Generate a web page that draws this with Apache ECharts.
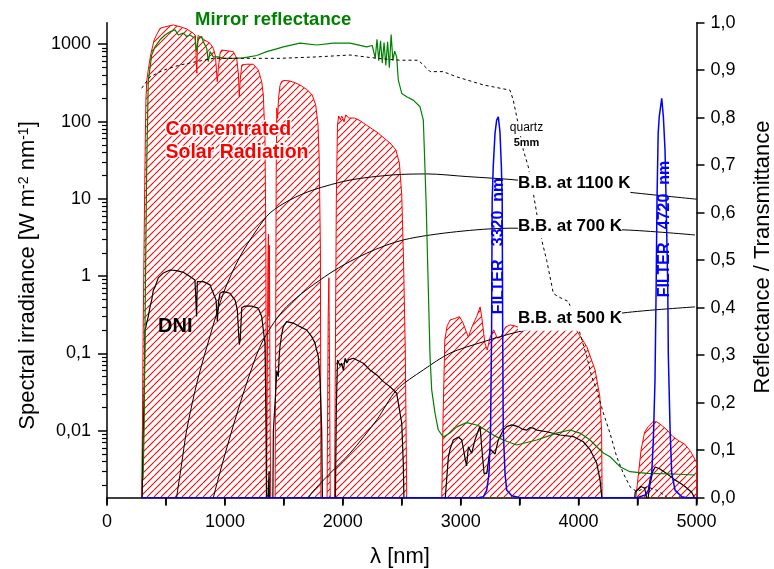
<!DOCTYPE html>
<html><head><meta charset="utf-8">
<script src="https://cdn.jsdelivr.net/npm/echarts@6/dist/echarts.min.js"></script>
<style>html,body{margin:0;padding:0;background:#fff}#c{width:774px;height:569px}</style>
</head><body><div id="c"></div>
<script>
// ---- data (wavelength nm, value) ----
const csr = [[285,0.0005],[294,0.0015],[300,0.01],[305,0.1],[310,0.6],[315,3],[320,15],[325,60],[330,190],[337,330],[350,465],[370,727],[400,1136],[420,1319],[450,1611],[500,1690],[562,1778],[619,1690],[676,1578],[732,1388],[750,1300],[757,600],[762,422],[766,900],[772,1300],[789,1254],[830,1130],[874,1030],[902,888],[920,700],[935,328],[945,500],[960,780],[973,843],[1071,802],[1100,659],[1115,400],[1122,210],[1130,350],[1143,540],[1185,551],[1241,551],[1283,465],[1312,328],[1326,221],[1340,60],[1348,2],[1352,0.0005],
[1360,0.0005],[1365,1.5],[1369,3.5],[1373,0.3],[1378,2.5],[1383,0.02],[1390,0.0005],
[1425,0.0005],[1435,20],[1440,150],[1447,110],[1455,200],[1467,290],[1480,330],[1500,340],[1550,335],[1600,316],[1650,289],[1700,256],[1740,221],[1770,164],[1790,90],[1800,32],[1810,2.2],[1815,0.0005],
[1865,0.0005],[1876,0.3],[1882,0.95],[1888,0.05],[1895,0.0005],
[1928,0.0005],[1945,9.7],[1955,90],[1965,118],[1980,105],[1990,118],[2000,111],[2010,99],[2025,122],[2050,111],[2100,111],[2150,102],[2200,90],[2250,80],[2300,71],[2350,61],[2400,53],[2450,43],[2480,29],[2500,11.2],[2515,1.62],[2530,0.111],[2545,0.0005],
[2835,0.0005],[2850,0.0138],[2865,0.15],[2885,0.227],[2910,0.271],[2950,0.283],[2990,0.299],[3020,0.248],[3045,0.195],[3065,0.163],[3095,0.22],[3135,0.299],[3165,0.4],[3180,0.283],[3205,0.136],[3225,0.111],[3250,0.163],[3280,0.202],[3310,0.158],[3340,0.163],[3380,0.22],[3420,0.234],[3460,0.227],[3500,0.214],[3700,0.214],[3900,0.211],[3980,0.202],[4070,0.122],[4140,0.061],[4180,0.0276],[4195,0.0102],[4202,0.0005],
[4455,0.0005],[4490,0.00157],[4530,0.00565],[4560,0.0096],[4590,0.0113],[4630,0.013],[4660,0.0131],[4700,0.0119],[4750,0.0102],[4800,0.0084],[4850,0.0074],[4900,0.0067],[4950,0.0054],[5000,0.0039],[5000,0.0005]];

const dni = [[295,0.0005],[300,0.002],[305,0.006],[315,0.03],[322,0.2],[330,0.22],[337,0.25],[350,0.3],[365,0.4],[380,0.5],[393,0.66],[407,0.72],[435,0.95],[478,1.1],[534,1.2],[591,1.18],[647,1.12],[704,0.99],[746,0.89],[755,0.85],[760,0.3],[766,0.85],[774,0.89],[817,0.85],[874,0.77],[902,0.6],[925,0.49],[936,0.26],[945,0.45],[958,0.6],[986,0.63],[1043,0.6],[1086,0.49],[1105,0.37],[1122,0.13],[1130,0.15],[1143,0.39],[1171,0.41],[1227,0.41],[1283,0.385],[1312,0.3],[1326,0.2],[1340,0.136],[1350,0.01],[1355,0.0005],
[1370,0.0005],[1375,0.003],[1380,0.0005],
[1405,0.0005],[1411,0.01],[1430,0.03],[1440,0.06],[1453,0.05],[1460,0.09],[1467,0.122],[1480,0.17],[1495,0.222],[1524,0.258],[1580,0.247],[1637,0.222],[1694,0.201],[1736,0.165],[1764,0.136],[1792,0.091],[1807,0.045],[1821,0.0102],[1830,0.0005],
[1935,0.0005],[1945,0.02],[1955,0.0824],[1962,0.0824],[1975,0.07],[1991,0.0746],[2005,0.06],[2019,0.0867],[2035,0.075],[2047,0.0824],[2089,0.0867],[2174,0.0746],[2231,0.0611],[2288,0.0527],[2344,0.0432],[2400,0.0372],[2457,0.0305],[2500,0.0125],[2513,0.0038],[2519,0.0012],[2525,0.0005],
[2860,0.0005],[2870,0.0014],[2895,0.0045],[2909,0.0057],[2937,0.0076],[2980,0.0083],[3009,0.0076],[3037,0.0044],[3050,0.0035],[3065,0.0062],[3093,0.0051],[3121,0.0076],[3149,0.01],[3164,0.0115],[3178,0.0062],[3198,0.0028],[3221,0.0028],[3249,0.0058],[3291,0.005],[3319,0.0076],[3361,0.0102],[3390,0.0113],[3433,0.0119],[3489,0.0113],[3520,0.0105],[3560,0.0102],[3590,0.011],[3616,0.0108],[3645,0.0102],[3730,0.0097],[3842,0.0088],[3955,0.0084],[4040,0.0072],[4097,0.0057],[4154,0.0038],[4182,0.0023],[4196,0.0014],[4205,0.0005],
[4450,0.0005],[4480,0.0016],[4530,0.0019],[4560,0.0018],[4585,0.0012],[4605,0.002],[4630,0.003],[4650,0.0034],[4690,0.0032],[4747,0.0028],[4803,0.0024],[4860,0.0021],[4902,0.0019],[4959,0.0016],[4990,0.0013],[5000,0.0011]];

const bb1100 = [[570,0.0008],[590,0.00136],[630,0.00345],[676,0.0102],[760,0.04],[846,0.12],[987,0.6],[1128,1.79],[1270,3.96],[1383,6.57],[1552,9.68],[1747,13.0],[2061,17.5],[2426,20.4],[2714,21.0],[3054,19.4],[3478,17.5],[4462,12.0],[5000,9.9]];
const bb700 = [[890,0.0009],[902,0.00136],[1060,0.0102],[1213,0.0554],[1326,0.15],[1524,0.403],[1891,1.09],[2203,1.98],[2513,2.94],[2966,3.76],[3418,4.17],[4394,3.96],[4987,3.41]];
const bb500 = [[1690,0.0009],[1708,0.00136],[1891,0.0028],[2061,0.00512],[2288,0.0138],[2457,0.0337],[2683,0.0612],[2909,0.1007],[3189,0.141],[3418,0.179],[3562,0.201],[3969,0.255],[4377,0.334],[4987,0.4]];

const mirror = [[306,0.04],[315,0.15],[322,0.35],[328,0.5],[337,0.7],[350,0.876],[379,0.932],[407,0.949],[450,0.964],[492,0.974],[534,0.981],[577,0.985],[605,0.974],[647,0.978],[676,0.971],[704,0.974],[746,0.967],[761,0.939],[774,0.967],[803,0.971],[817,0.96],[846,0.946],[859,0.918],[874,0.939],[902,0.928],[944,0.928],[986,0.925],[1071,0.925],[1156,0.926],[1270,0.931],[1355,0.939],[1453,0.946],[1495,0.949],[1637,0.957],[1779,0.953],[1919,0.957],[2061,0.957],[2203,0.949],[2250,0.952],[2260,0.955],[2275,0.925],[2290,0.965],[2305,0.92],[2320,0.962],[2335,0.915],[2350,0.958],[2365,0.91],[2380,0.96],[2395,0.905],[2410,0.975],[2425,0.92],[2440,0.94],[2457,0.928],[2471,0.879],[2500,0.851],[2542,0.844],[2598,0.837],[2655,0.823],[2683,0.795],[2706,0.627],[2740,0.297],[2754,0.227],[2782,0.178],[2810,0.1425],[2852,0.128],[2909,0.136],[2966,0.149],[3051,0.158],[3136,0.153],[3164,0.15],[3249,0.136],[3305,0.128],[3361,0.1215],[3475,0.111],[3645,0.1215],[3814,0.136],[3927,0.1425],[4012,0.136],[4097,0.1215],[4182,0.1004],[4210,0.094],[4224,0.0935],[4267,0.0863],[4351,0.0653],[4436,0.0547],[4578,0.0514],[4803,0.0499],[4987,0.0478]];

const quartz = [[294,0.862],[365,0.886],[478,0.9],[619,0.911],[761,0.918],[902,0.925],[1043,0.925],[1467,0.925],[1779,0.928],[2061,0.932],[2288,0.925],[2485,0.921],[2640,0.921],[2683,0.911],[2740,0.897],[2852,0.897],[2966,0.886],[3192,0.869],[3418,0.858],[3446,0.837],[3475,0.802],[3531,0.732],[3573,0.697],[3616,0.641],[3673,0.557],[3729,0.5],[3786,0.43],[3828,0.423],[3913,0.413],[3942,0.395],[4012,0.346],[4069,0.297],[4111,0.255],[4154,0.227],[4210,0.178],[4266,0.136],[4323,0.0863],[4379,0.0514],[4436,0.0232],[4493,0.0126],[4540,0.018],[4578,0.023],[4662,0.016],[4747,0.002]];

const filter3320 = [[290,0],[3150,0],[3192,0.002],[3221,0.016],[3240,0.05],[3253,0.142],[3262,0.35],[3267,0.627],[3276,0.697],[3291,0.767],[3305,0.795],[3319,0.802],[3333,0.77],[3345,0.697],[3352,0.627],[3356,0.35],[3361,0.142],[3376,0.051],[3390,0.016],[3433,0.004],[3503,0]];
const filter4720 = [[4500,0],[4521,0.002],[4564,0.006],[4592,0.016],[4606,0.037],[4620,0.051],[4634,0.121],[4648,0.248],[4658,0.45],[4665,0.627],[4675,0.767],[4684,0.802],[4705,0.841],[4719,0.802],[4733,0.732],[4742,0.627],[4756,0.45],[4761,0.3],[4776,0.1425],[4790,0.051],[4818,0.016],[4875,0.002],[4917,0],[5000,0]];

const xTicks = [0,500,1000,1500,2000,2500,3000,3500,4000,4500,5000];
const logMajor = [0.01,0.1,1,10,100,1000];
const logMinor = [0.002,0.003,0.004,0.005,0.006,0.007,0.008,0.009,0.02,0.03,0.04,0.05,0.06,0.07,0.08,0.09,0.2,0.3,0.4,0.5,0.6,0.7,0.8,0.9,2,3,4,5,6,7,8,9,20,30,40,50,60,70,80,90,200,300,400,500,600,700,800,900];

// ---- drawing ----
const FONT = 'Liberation Sans, Arial, Helvetica, sans-serif';
const GRID = {left:107, right:77.5, top:22.7, bottom:71.3};
const W = 774, H = 569;
function hatch(){
  const c = document.createElement('canvas'); c.width = 7; c.height = 7;
  const g = c.getContext('2d');
  g.strokeStyle = '#ff0000'; g.lineWidth = 1.1;
  g.beginPath();
  for (const k of [-1,0,1]) { g.moveTo(k*7, 7); g.lineTo(k*7+7, 0); }
  g.stroke();
  return c;
}
const chart = echarts.init(document.getElementById('c'), null, {renderer:'canvas', width:W, height:H});
const LOGMIN = 0.00136, LOGMAX = 1900;
const texts = [
    {type:'text', x:195, y:19.5, z:100, style:{text:'Mirror reflectance', font:'bold 18.5px '+FONT, fill:'#008000', verticalAlign:'middle'}},
    {type:'text', x:165.5, y:130, z:100, style:{text:'Concentrated', font:'bold 19.5px '+FONT, fill:'#ff0000', verticalAlign:'middle', stroke:'#fff', lineWidth:3}},
    {type:'text', x:165.5, y:153, z:100, style:{text:'Solar Radiation', font:'bold 19.5px '+FONT, fill:'#ff0000', verticalAlign:'middle', stroke:'#fff', lineWidth:3}},
    {type:'text', x:158, y:326.5, z:100, style:{text:'DNI', font:'bold 20px '+FONT, fill:'#000', verticalAlign:'middle'}},
    {type:'text', x:526.5, y:127.5, z:100, style:{text:'quartz', font:'12px '+FONT, fill:'#000', align:'center', verticalAlign:'middle', backgroundColor:'#fff'}},
    {type:'text', x:526.5, y:142.8, z:100, style:{text:'5mm', font:'bold 11px '+FONT, fill:'#000', align:'center', verticalAlign:'middle', backgroundColor:'#fff'}},
    {type:'text', x:518, y:183.3, z:100, style:{text:'B.B. at 1100 K', font:'bold 17px '+FONT, fill:'#000', verticalAlign:'middle', backgroundColor:'#fff', padding:[2,0,4,0]}},
    {type:'text', x:518, y:226.7, z:100, style:{text:'B.B. at 700 K', font:'bold 17px '+FONT, fill:'#000', verticalAlign:'middle', backgroundColor:'#fff', padding:[2,0,4,0]}},
    {type:'text', x:518, y:318.3, z:100, style:{text:'B.B. at 500 K', font:'bold 17px '+FONT, fill:'#000', verticalAlign:'middle', backgroundColor:'#fff', padding:[2,0,6,0]}},
    {type:'text', x:498.5, y:246, rotation:Math.PI/2, z:100, style:{text:'FILTER   3320  nm', font:'bold 16px '+FONT, fill:'#0000ff', align:'center', verticalAlign:'middle'}},
    {type:'text', x:665, y:229, rotation:Math.PI/2, z:100, style:{text:'FILTER   4720  nm', font:'bold 16px '+FONT, fill:'#0000ff', align:'center', verticalAlign:'middle'}},
    {type:'text', x:28, y:275.5, rotation:Math.PI/2, z:100, style:{text:'Spectral irradiance [W m{s|-2} nm{s|-1}]', font:'22px '+FONT, fill:'#000', align:'center', verticalAlign:'middle',
      rich:{s:{fontSize:14, fontFamily:FONT, verticalAlign:'top', fill:'#000'}}}},
    {type:'text', x:763, y:257, rotation:Math.PI/2, z:100, style:{text:'Reflectance / Transmittance', font:'22px '+FONT, fill:'#000', align:'center', verticalAlign:'middle'}},
    {type:'text', x:400, y:557, z:100, style:{text:'λ [nm]', font:'22px '+FONT, fill:'#000', align:'center', verticalAlign:'middle'}}
];
const option = {
  animation:false,
  backgroundColor:'#fff',
  grid:{left:GRID.left, right:GRID.right, top:GRID.top, bottom:GRID.bottom, outerBoundsMode:'none', containLabel:false},
  xAxis:{type:'value', min:0, max:5000, interval:500, position:'bottom',
      axisLine:{show:true, onZero:false, lineStyle:{color:'#000', width:1.5}},
      axisTick:{show:true, inside:false, length:7, lineStyle:{color:'#000', width:1.5}},
      axisLabel:{color:'#000', fontSize:18, fontFamily:FONT, margin:15,
        formatter:v => (v % 1000 === 0 ? String(v) : '')},
      splitLine:{show:false}},
  yAxis:[
    {type:'log', logBase:10, min:LOGMIN, max:LOGMAX, position:'left',
      axisLine:{show:true, lineStyle:{color:'#000', width:1.5}},
      axisTick:{show:true, length:9, lineStyle:{color:'#000', width:1.5}, customValues:logMajor},
      axisLabel:{color:'#000', fontSize:18, fontFamily:FONT, margin:16, customValues:logMajor,
        formatter:v => String(v).replace('.', ',')},
      splitLine:{show:false}, minorTick:{show:false}},
    {type:'log', logBase:10, min:LOGMIN, max:LOGMAX, position:'left',
      axisLine:{show:false},
      axisTick:{show:true, length:5, lineStyle:{color:'#000', width:1.2}, customValues:logMinor},
      axisLabel:{show:false}, splitLine:{show:false}},
    {type:'value', min:0, max:1, interval:0.1, position:'right',
      axisLine:{show:true, lineStyle:{color:'#000', width:1.5}},
      axisTick:{show:true, length:8, lineStyle:{color:'#000', width:1.5}},
      axisLabel:{color:'#000', fontSize:18, fontFamily:FONT, margin:14,
        formatter:v => v.toFixed(1).replace('.', ',')},
      splitLine:{show:false}}
  ],
  series:[
    {name:'Concentrated Solar Radiation', type:'line', yAxisIndex:0, data:csr, symbol:'none', z:1,
      lineStyle:{color:'#ff0000', width:1},
      areaStyle:{origin:'start', color:{image:hatch(), repeat:'repeat'}, opacity:1}},
    {name:'DNI', type:'line', yAxisIndex:0, data:dni, symbol:'none', z:3, lineStyle:{color:'#000', width:1.2}},
    {name:'BB1100', type:'line', yAxisIndex:0, data:bb1100, symbol:'none', smooth:0.3, z:3, lineStyle:{color:'#000', width:1}},
    {name:'BB700', type:'line', yAxisIndex:0, data:bb700, symbol:'none', smooth:0.3, z:3, lineStyle:{color:'#000', width:1}},
    {name:'BB500', type:'line', yAxisIndex:0, data:bb500, symbol:'none', smooth:0.3, z:3, lineStyle:{color:'#000', width:1}},
    {name:'Mirror', type:'line', yAxisIndex:2, data:mirror, symbol:'none', z:4, lineStyle:{color:'#008000', width:1.2}},
    {name:'Quartz', type:'line', yAxisIndex:2, data:quartz, symbol:'none', z:4, lineStyle:{color:'#000', width:1, type:[3,3]}},
    {name:'Filters', type:'line', yAxisIndex:2, data:filter3320.concat(filter4720), symbol:'none', z:5, lineStyle:{color:'#0000ff', width:1.5}}
  ],
  graphic:texts
};
chart.setOption(option);
// extra x-axis tick marks: x from the axis scale, y at the grid's bottom edge
const yAxisLine = H - GRID.bottom;
const tickEls = xTicks.map(v => {
  let px = chart.convertToPixel({xAxisIndex:0}, v);
  if (!isFinite(px)) px = GRID.left + v / 5000 * (W - GRID.left - GRID.right);
  return {type:'line', z:200, zlevel:0, silent:true,
    shape:{x1:px, y1:yAxisLine, x2:px, y2:yAxisLine + 8},
    style:{stroke:'#000', lineWidth:1.5}};
});
chart.setOption({graphic:texts.concat(tickEls)});
</script>
</body></html>
